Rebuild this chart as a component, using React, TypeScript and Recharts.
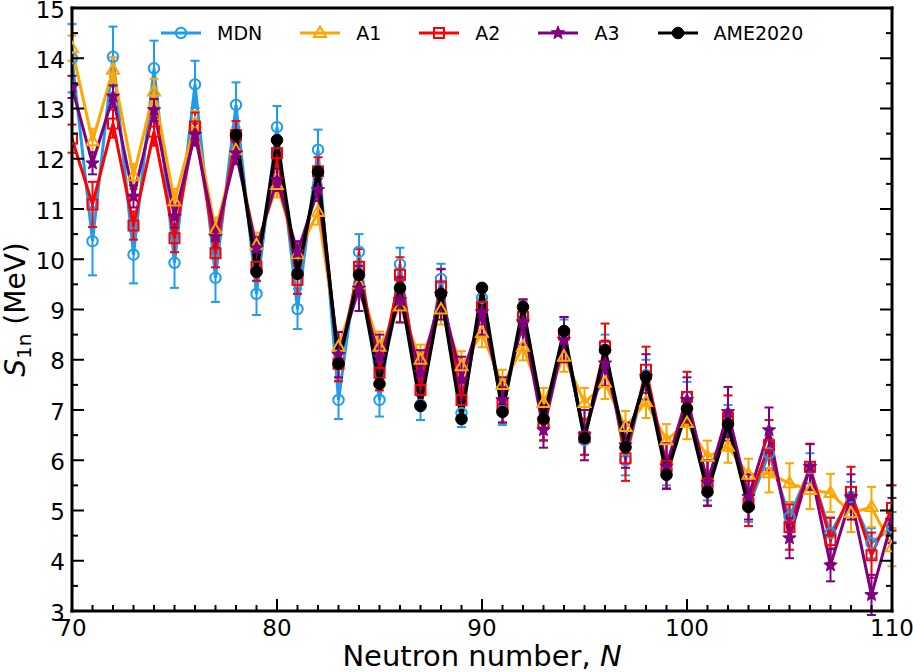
import React from 'react';
import { LineChart, Line, XAxis, YAxis, ErrorBar } from 'recharts';

// neutron number N
const N_VALUES = [
  70, 71, 72, 73, 74, 75, 76, 77, 78, 79, 80, 81, 82, 83, 84, 85, 86, 87, 88, 89, 90,
  91, 92, 93, 94, 95, 96, 97, 98, 99, 100, 101, 102, 103, 104, 105, 106, 107, 108, 109, 110,
];

// S1n (MeV), one value per N
const MDN = [
  14.0, 10.36, 14.03, 10.09, 13.8, 9.93, 13.48, 9.63, 13.07, 9.31, 12.63, 9.01, 12.18,
  7.2, 10.15, 7.2, 9.9, 7.1, 9.61, 6.94, 9.23, 6.98, 8.87, 6.68, 8.5, 6.4,
  8.2, 6.0, 7.7, 5.8, 7.26, 5.5, 6.8, 5.07, 6.14, 4.87, 5.84, 4.55, 5.27, 4.35, 4.67,
];
const MDN_ERR = [
  0.68, 0.68, 0.6, 0.57, 0.55, 0.5, 0.47, 0.48, 0.45, 0.42, 0.42, 0.4, 0.4,
  0.38, 0.35, 0.33, 0.33, 0.3, 0.3, 0.28, 0.28, 0.28, 0.28, 0.3, 0.3, 0.3,
  0.3, 0.3, 0.3, 0.3, 0.3, 0.3, 0.3, 0.3, 0.3, 0.3, 0.3, 0.3, 0.3, 0.3, 0.3,
];

const A1 = [
  14.2, 12.35, 13.77, 11.65, 13.34, 11.15, 12.7, 10.58, 12.17, 10.28, 11.48, 10.1, 10.94,
  8.26, 9.5, 8.26, 9.06, 8.0, 9.0, 7.87, 8.53, 7.5, 8.26, 7.14, 8.06, 7.14,
  7.54, 6.66, 7.16, 6.4, 6.74, 6.07, 6.27, 5.71, 5.74, 5.54, 5.41, 5.35, 4.95, 5.07, 4.27,
];
const A1_ERR = [
  0.25, 0.25, 0.25, 0.25, 0.25, 0.25, 0.25, 0.25, 0.25, 0.25, 0.25, 0.25, 0.25,
  0.3, 0.3, 0.3, 0.3, 0.3, 0.3, 0.3, 0.28, 0.3, 0.27, 0.3, 0.3, 0.3,
  0.32, 0.32, 0.32, 0.32, 0.32, 0.32, 0.32, 0.32, 0.38, 0.4, 0.38, 0.38, 0.38, 0.4, 0.38,
];

const A2 = [
  12.4, 11.09, 12.7, 10.67, 12.54, 10.42, 12.64, 10.12, 12.47, 9.85, 12.11, 9.59, 11.75,
  7.92, 9.85, 7.74, 9.69, 7.4, 9.46, 7.2, 9.05, 7.1, 8.85, 6.75, 8.5, 6.46,
  8.26, 6.04, 7.8, 5.89, 7.26, 5.54, 6.84, 5.14, 6.3, 4.67, 5.87, 4.41, 5.37, 4.11, 5.05,
];
const A2_ERR = [
  0.28, 0.45, 0.28, 0.28, 0.28, 0.28, 0.28, 0.28, 0.28, 0.28, 0.28, 0.28, 0.28,
  0.35, 0.35, 0.35, 0.35, 0.35, 0.35, 0.35, 0.35, 0.35, 0.35, 0.35, 0.35, 0.35,
  0.46, 0.45, 0.46, 0.45, 0.5, 0.45, 0.45, 0.45, 0.5, 0.45, 0.46, 0.45, 0.5, 0.45, 0.45,
];

const A3 = [
  13.43, 11.91, 13.24, 11.25, 12.97, 10.85, 12.48, 10.45, 12.11, 10.22, 11.58, 10.14, 11.38,
  8.1, 9.42, 8.05, 9.19, 7.74, 9.3, 7.61, 8.95, 7.2, 8.75, 6.6, 8.4, 6.5,
  7.93, 6.3, 7.66, 5.88, 7.2, 5.55, 6.96, 5.27, 6.6, 4.45, 5.87, 3.91, 5.27, 3.32, 4.8,
];
const A3_ERR = [
  0.22, 0.22, 0.22, 0.22, 0.22, 0.22, 0.22, 0.22, 0.22, 0.22, 0.22, 0.22, 0.22,
  0.45, 0.45, 0.45, 0.45, 0.45, 0.5, 0.45, 0.45, 0.45, 0.45, 0.35, 0.45, 0.5,
  0.45, 0.45, 0.45, 0.45, 0.45, 0.45, 0.5, 0.45, 0.45, 0.4, 0.45, 0.32, 0.45, 0.4, 0.45,
];

const AME2020 = [
  null, null, null, null, null, null, null, null,
  12.47, 9.75, 12.37, 9.71, 11.74,
  7.92, 9.69, 7.52, 9.43, 7.08, 9.31, 6.82, 9.43, 6.96, 9.05, 6.82, 8.57, 6.44,
  8.19, 6.26, 7.66, 5.71, 7.03, 5.37, 6.72, 5.07,
  null, null, null, null, null, null, null,
];

const X_MAJOR = [70, 80, 90, 100, 110];
const X_ALL_TICKS = N_VALUES;
const Y_MAJOR = [3, 4, 5, 6, 7, 8, 9, 10, 11, 12, 13, 14, 15];
const Y_ALL_TICKS = [
  3, 3.5, 4, 4.5, 5, 5.5, 6, 6.5, 7, 7.5, 8, 8.5, 9, 9.5, 10, 10.5, 11, 11.5,
  12, 12.5, 13, 13.5, 14, 14.5, 15,
];

const FONT = '"DejaVu Sans", sans-serif';
const TICK_FONT = 23;

const SERIES = [
  { key: 'mdn', name: 'MDN', color: '#1E9CF0', marker: 'circle', width: 3 },
  { key: 'a1', name: 'A1', color: '#FFA500', marker: 'triangle', width: 3 },
  { key: 'a2', name: 'A2', color: '#FF0000', marker: 'square', width: 3 },
  { key: 'a3', name: 'A3', color: '#800080', marker: 'star', width: 3 },
  { key: 'ame', name: 'AME2020', color: '#000000', marker: 'dot', width: 3.5 },
];

const data = N_VALUES.map((n, i) => ({
  n,
  mdn: MDN[i],
  mdnErr: MDN_ERR[i],
  a1: A1[i],
  a1Err: A1_ERR[i],
  a2: A2[i],
  a2Err: A2_ERR[i],
  a3: A3[i],
  a3Err: A3_ERR[i],
  ame: AME2020[i],
}));

function starPoints(cx: number, cy: number, ro: number, ri: number) {
  const pts: string[] = [];
  for (let k = 0; k < 10; k++) {
    const r = k % 2 === 0 ? ro : ri;
    const a = -Math.PI / 2 + (k * Math.PI) / 5;
    pts.push(`${cx + r * Math.cos(a)},${cy + r * Math.sin(a)}`);
  }
  return pts.join(' ');
}

function Marker({ type, cx, cy, color }: { type: string; cx: number; cy: number; color: string }) {
  switch (type) {
    case 'circle':
      return <circle cx={cx} cy={cy} r={5.2} fill="none" stroke={color} strokeWidth={2} />;
    case 'triangle':
      return (
        <polygon
          points={`${cx},${cy - 6.5} ${cx + 6},${cy + 4} ${cx - 6},${cy + 4}`}
          fill="none"
          stroke={color}
          strokeWidth={2}
        />
      );
    case 'square':
      return <rect x={cx - 5} y={cy - 5} width={10} height={10} fill="none" stroke={color} strokeWidth={2} />;
    case 'star':
      return <polygon points={starPoints(cx, cy, 7, 3)} fill={color} stroke={color} strokeWidth={1} />;
    default:
      return <circle cx={cx} cy={cy} r={5.8} fill={color} stroke={color} />;
  }
}

const renderDot = (type: string, color: string) => (props: any) => {
  const { cx, cy, index, value } = props;
  if (cx == null || cy == null || value == null || Number.isNaN(cy)) return <g key={`e-${type}-${index}`} />;
  return (
    <g key={`${type}-${index}`}>
      <Marker type={type} cx={cx} cy={cy} color={color} />
    </g>
  );
};

// ticks point inward, labels outside; minor ticks drawn shorter
const tickLine = (x1: number, y1: number, x2: number, y2: number) => (
  <line x1={x1} y1={y1} x2={x2} y2={y2} stroke="#000" strokeWidth={2} />
);

const BottomTick = (props: any) => {
  const { x, y, payload } = props;
  const major = X_MAJOR.includes(payload.value);
  return (
    <g>
      {tickLine(x, y, x, y - (major ? 12 : 6))}
      {major && (
        <text x={x} y={y + 25} textAnchor="middle" fontSize={TICK_FONT} fontFamily={FONT} fill="#000">
          {payload.value}
        </text>
      )}
    </g>
  );
};

const TopTick = (props: any) => {
  const { x, y, payload } = props;
  const major = X_MAJOR.includes(payload.value);
  return <g>{tickLine(x, y, x, y + (major ? 12 : 6))}</g>;
};

const LeftTick = (props: any) => {
  const { x, y, payload } = props;
  const major = Y_MAJOR.includes(payload.value);
  return (
    <g>
      {tickLine(x, y, x + (major ? 12 : 6), y)}
      {major && (
        <text x={x - 7} y={y} dy="0.42em" textAnchor="end" fontSize={TICK_FONT} fontFamily={FONT} fill="#000">
          {payload.value}
        </text>
      )}
    </g>
  );
};

const RightTick = (props: any) => {
  const { x, y, payload } = props;
  const major = Y_MAJOR.includes(payload.value);
  return <g>{tickLine(x, y, x - (major ? 12 : 6), y)}</g>;
};

const axisLineStyle = { stroke: '#000', strokeWidth: 3, strokeLinecap: 'square' as const };

const renderXLabel = (props: any) => {
  const vb = props.viewBox || { x: 72, y: 611, width: 820 };
  return (
    <text x={vb.x + vb.width / 2} y={vb.y + 55} textAnchor="middle" fontSize={29} fontFamily={FONT} fill="#000">
      Neutron number, <tspan fontStyle="italic">N</tspan>
    </text>
  );
};

const renderYLabel = (props: any) => {
  const vb = props.viewBox || { y: 8, height: 603 };
  const cy = vb.y + vb.height / 2;
  return (
    <text
      x={25}
      y={cy}
      transform={`rotate(-90 25 ${cy})`}
      textAnchor="middle"
      fontSize={28}
      fontFamily={FONT}
      fill="#000"
    >
      <tspan fontStyle="italic">S</tspan>
      <tspan fontSize={20} dy={6}>1n</tspan>
      <tspan dy={-6}> (MeV)</tspan>
    </text>
  );
};

function LegendIcon({ type, color }: { type: string; color: string }) {
  return (
    <svg width={40} height={20} style={{ display: 'block' }}>
      <line x1={0} y1={10} x2={40} y2={10} stroke={color} strokeWidth={3} />
      <Marker type={type} cx={20} cy={10} color={color} />
    </svg>
  );
}

export default function App() {
  return (
    <div
      style={{
        position: 'absolute',
        left: 0,
        top: 0,
        width: 913,
        height: 672,
        background: '#fff',
        fontFamily: FONT,
      }}
    >
      <LineChart width={913} height={672} data={data} margin={{ top: 0, right: 0, bottom: 0, left: 0 }}>
        <XAxis
          xAxisId="b"
          dataKey="n"
          type="number"
          domain={[70, 110]}
          ticks={X_ALL_TICKS}
          interval={0}
          orientation="bottom"
          height={61}
          tickSize={0}
          tickMargin={0}
          axisLine={axisLineStyle}
          tickLine={false}
          tick={BottomTick}
          allowDataOverflow
          label={renderXLabel}
        />
        <XAxis
          xAxisId="t"
          type="number"
          domain={[70, 110]}
          ticks={X_ALL_TICKS}
          interval={0}
          orientation="top"
          height={8}
          tickSize={0}
          tickMargin={0}
          axisLine={axisLineStyle}
          tickLine={false}
          tick={TopTick}
          allowDataOverflow
        />
        <YAxis
          yAxisId="l"
          type="number"
          domain={[3, 15]}
          ticks={Y_ALL_TICKS}
          interval={0}
          orientation="left"
          width={72}
          tickSize={0}
          tickMargin={0}
          axisLine={axisLineStyle}
          tickLine={false}
          tick={LeftTick}
          allowDataOverflow
          label={renderYLabel}
        />
        <YAxis
          yAxisId="r"
          type="number"
          domain={[3, 15]}
          ticks={Y_ALL_TICKS}
          interval={0}
          orientation="right"
          width={21}
          tickSize={0}
          tickMargin={0}
          axisLine={axisLineStyle}
          tickLine={false}
          tick={RightTick}
          allowDataOverflow
        />

        {SERIES.map((s) => (
          <Line
            key={s.key}
            xAxisId="b"
            yAxisId="l"
            type="linear"
            dataKey={s.key}
            name={s.name}
            stroke={s.color}
            strokeWidth={s.width}
            dot={renderDot(s.marker, s.color)}
            activeDot={false}
            isAnimationActive={false}
            connectNulls={false}
          >
            {s.key !== 'ame' && (
              <ErrorBar
                dataKey={`${s.key}Err`}
                direction="y"
                width={4.5}
                stroke={s.color}
                strokeWidth={2}
                isAnimationActive={false}
              />
            )}
          </Line>
        ))}
      </LineChart>

      {/* legend */}
      <div
        style={{
          position: 'absolute',
          left: 161,
          top: 22,
          display: 'flex',
          alignItems: 'center',
          fontSize: 19,
          color: '#000',
        }}
      >
        {SERIES.map((s) => (
          <div key={s.key} style={{ display: 'flex', alignItems: 'center', marginRight: 38 }}>
            <LegendIcon type={s.marker} color={s.color} />
            <span style={{ marginLeft: 16, lineHeight: '22px' }}>{s.name}</span>
          </div>
        ))}
      </div>
    </div>
  );
}
